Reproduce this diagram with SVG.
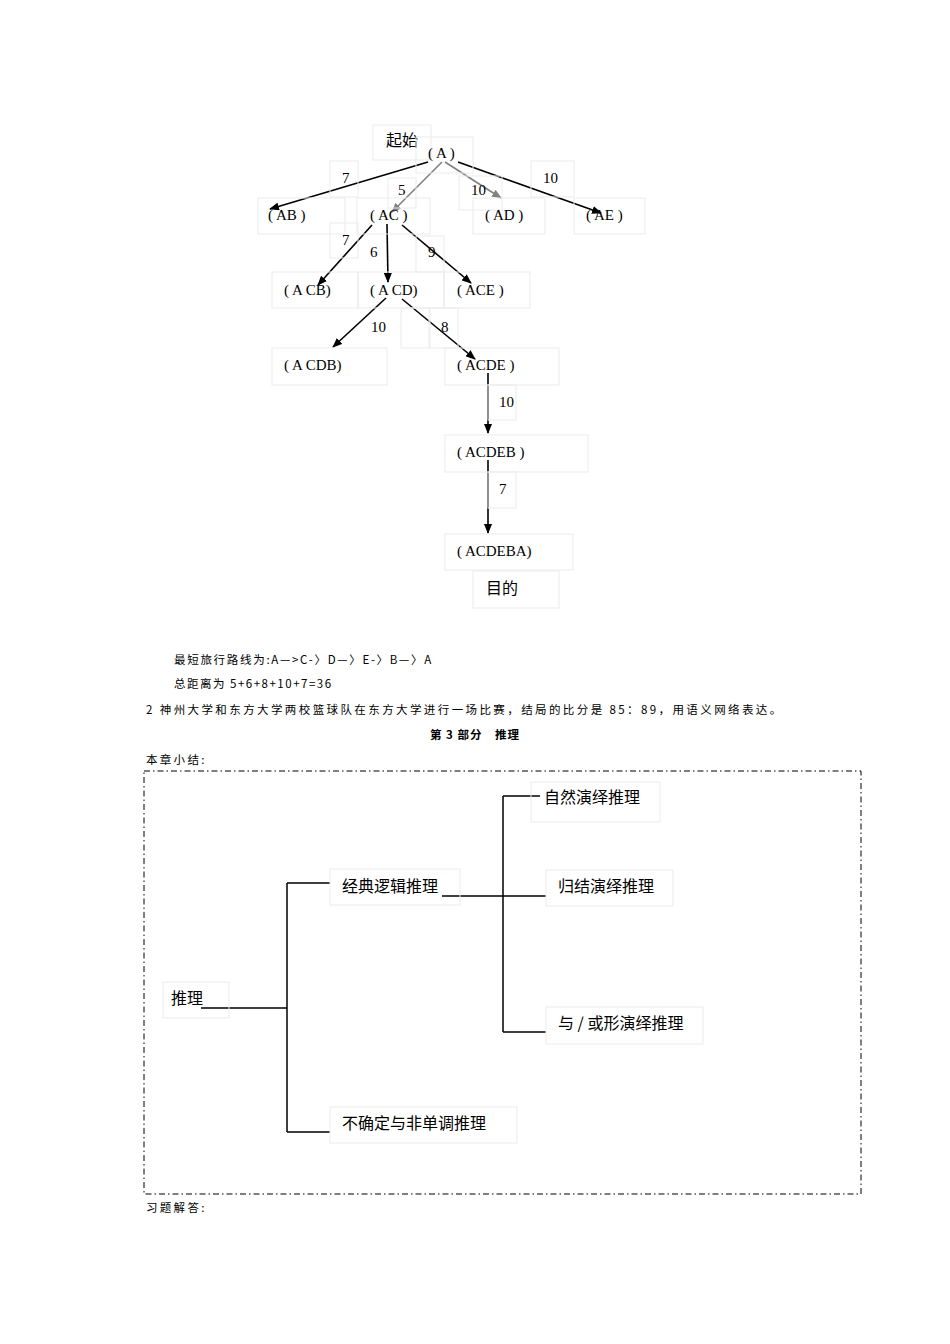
<svg xmlns="http://www.w3.org/2000/svg" width="950" height="1344" viewBox="0 0 950 1344">
<style>
.b{fill:none;stroke:#ebebeb;stroke-width:1}
.t{font-family:"Liberation Serif","Noto Sans CJK SC",serif;font-size:15px;fill:#000}
.c{font-family:"Noto Sans CJK SC",sans-serif;font-size:16px;fill:#000}
.s{font-family:"Noto Sans CJK SC",sans-serif;font-size:11.5px;fill:#000;letter-spacing:2.3px}
.e{stroke:#000;stroke-width:1.6;fill:none}
.g{stroke:#808080;stroke-width:1.6;fill:none}
.l{stroke:#000;stroke-width:1.5;fill:none}
</style>
<defs>
<marker id="ab" markerWidth="10" markerHeight="8" refX="9" refY="4" orient="auto" markerUnits="userSpaceOnUse"><path d="M0,0L10,4L0,8z" fill="#000"/></marker>
<marker id="ag" markerWidth="10" markerHeight="8" refX="9" refY="4" orient="auto" markerUnits="userSpaceOnUse"><path d="M0,0L10,4L0,8z" fill="#808080"/></marker>
</defs>
<rect width="950" height="1344" fill="#fff"/>
<g id="connectors">
<line class="e" x1="428" y1="162" x2="270" y2="209" marker-end="url(#ab)"/>
<line class="g" x1="442" y1="162" x2="392" y2="212" marker-end="url(#ag)"/>
<line class="g" x1="445" y1="162" x2="501" y2="198" marker-end="url(#ag)"/>
<line class="e" x1="458" y1="162" x2="601" y2="213" marker-end="url(#ab)"/>
<line class="e" x1="372" y1="225" x2="318" y2="285" marker-end="url(#ab)"/>
<line class="e" x1="387" y1="224" x2="388" y2="282" marker-end="url(#ab)"/>
<line class="e" x1="402" y1="225" x2="471" y2="283" marker-end="url(#ab)"/>
<line class="e" x1="386" y1="298" x2="333" y2="347" marker-end="url(#ab)"/>
<line class="e" x1="402" y1="299" x2="475" y2="359" marker-end="url(#ab)"/>
<line class="e" x1="488" y1="373" x2="488" y2="433" marker-end="url(#ab)"/>
<line class="e" x1="488" y1="460" x2="488" y2="533" marker-end="url(#ab)"/>
<path class="l" d="M201,1008H287M287,883V1132M287,883H330M287,1132H330M442,896H546M503,796V1032M503,796H540M503,1032H546"/>
</g>
<g id="n-start"><rect class="b" x="373" y="125" width="58" height="35"/><text class="c" x="386" y="146">起始</text></g>
<g id="n-A"><rect class="b" x="416" y="137" width="57" height="36"/><text class="t" x="428" y="158">( A )</text></g>
<g id="w1"><rect class="b" x="330" y="161" width="28" height="36"/><text class="t" x="342" y="183">7</text></g>
<g id="w2"><rect class="b" x="388" y="178" width="28" height="30"/><text class="t" x="398" y="195">5</text></g>
<g id="w3"><rect class="b" x="459" y="176" width="43" height="34"/><text class="t" x="471" y="195">10</text></g>
<g id="w4"><rect class="b" x="531" y="161" width="43" height="36"/><text class="t" x="543" y="183">10</text></g>
<g id="n-AB"><rect class="b" x="258" y="198" width="87" height="36"/><text class="t" x="268" y="220">( AB )</text></g>
<g id="n-AC"><rect class="b" x="357" y="198" width="73" height="36"/><text class="t" x="370" y="220">( AC )</text></g>
<g id="n-AD"><rect class="b" x="473" y="198" width="72" height="36"/><text class="t" x="485" y="220">( AD )</text></g>
<g id="n-AE"><rect class="b" x="574" y="198" width="71" height="36"/><text class="t" x="586" y="220">( AE )</text></g>
<g id="w5"><rect class="b" x="330" y="223" width="28" height="35"/><text class="t" x="342" y="245">7</text></g>
<g id="w6"><text class="t" x="370" y="257">6</text></g>
<g id="w7"><rect class="b" x="416" y="236" width="28" height="36"/><text class="t" x="428" y="257">9</text></g>
<g id="n-ACB"><rect class="b" x="272" y="272" width="86" height="36"/><text class="t" x="284" y="295">( A CB)</text></g>
<g id="n-ACD"><rect class="b" x="358" y="272" width="86" height="36"/><text class="t" x="370" y="295">( A CD)</text></g>
<g id="n-ACE"><rect class="b" x="444" y="272" width="86" height="36"/><text class="t" x="457" y="295">( ACE )</text></g>
<g id="w8"><rect class="b" x="401" y="308" width="28" height="40"/><text class="t" x="371" y="332">10</text></g>
<g id="w9"><rect class="b" x="430" y="308" width="28" height="40"/><text class="t" x="441" y="332">8</text></g>
<g id="n-ACDB"><rect class="b" x="272" y="348" width="115" height="37"/><text class="t" x="284" y="370">( A CDB)</text></g>
<g id="n-ACDE"><rect class="b" x="445" y="348" width="114" height="37"/><text class="t" x="457" y="370">( ACDE )</text></g>
<g id="w10"><rect class="b" x="488" y="385" width="28" height="35"/><text class="t" x="499" y="407">10</text></g>
<g id="n-ACDEB"><rect class="b" x="445" y="435" width="143" height="37"/><text class="t" x="457" y="457">( ACDEB )</text></g>
<g id="w11"><rect class="b" x="488" y="472" width="28" height="36"/><text class="t" x="499" y="494">7</text></g>
<g id="n-ACDEBA"><rect class="b" x="445" y="534" width="128" height="36"/><text class="t" x="457" y="556">( ACDEBA)</text></g>
<g id="n-goal"><rect class="b" x="473" y="571" width="86" height="37"/><text class="c" x="486" y="594">目的</text></g>
<g id="body">
<text class="s" x="174" y="664" style="letter-spacing:1.7px">最短旅行路线为:A—&gt;C-〉D—〉E-〉B—〉A</text>
<text class="s" x="174" y="688" style="letter-spacing:1.5px">总距离为 5+6+8+10+7=36</text>
<text class="s" x="146" y="714" style="letter-spacing:2.4px">2 神州大学和东方大学两校篮球队在东方大学进行一场比赛，结局的比分是 85：89，用语义网络表达。</text>
<text class="s" x="475" y="739" text-anchor="middle" font-weight="bold" style="letter-spacing:1px">第 3 部分　推理</text>
<text class="s" x="146" y="764">本章小结:</text>
<text class="s" x="146" y="1212">习题解答:</text>
<rect x="144" y="771" width="717" height="423" fill="none" stroke="#000" stroke-width="1" stroke-dasharray="6,3,1.5,3"/>
</g>
<g id="r-root"><rect class="b" x="163" y="982" width="66" height="36"/><text class="c" x="171" y="1004">推理</text></g>
<g id="r-classic"><rect class="b" x="330" y="869" width="130" height="36"/><text class="c" x="342" y="892">经典逻辑推理</text></g>
<g id="r-nat"><rect class="b" x="531" y="782" width="129" height="40"/><text class="c" x="544" y="803">自然演绎推理</text></g>
<g id="r-res"><rect class="b" x="546" y="870" width="127" height="36"/><text class="c" x="558" y="892">归结演绎推理</text></g>
<g id="r-ao"><rect class="b" x="546" y="1007" width="157" height="37"/><text class="c" x="558" y="1029">与 / 或形演绎推理</text></g>
<g id="r-unc"><rect class="b" x="330" y="1107" width="187" height="36"/><text class="c" x="342" y="1129">不确定与非单调推理</text></g>
</svg>
